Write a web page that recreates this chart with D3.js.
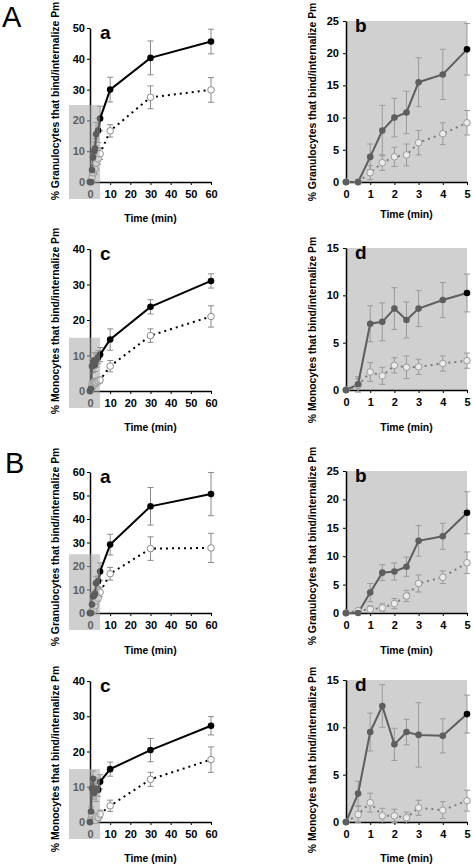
<!DOCTYPE html>
<html><head><meta charset="utf-8">
<script src="https://cdn.jsdelivr.net/npm/d3@7/dist/d3.min.js"></script>
<style>
html,body{margin:0;padding:0;background:#fff;}
svg{display:block;font-family:"Liberation Sans",Arial,sans-serif;}
</style></head>
<body>
<svg id="chart" width="473" height="868"></svg>
<script>
// ---- data ----
const timesFull = [0, 0.5, 1, 1.5, 2, 2.5, 3, 4, 5, 10, 30, 60];
const xTicksMain = [0, 10, 20, 30, 40, 50, 60];
const xTicksInset = [0, 1, 2, 3, 4, 5];

const aGranFilled = [0, 0, 3.9, 8.0, 10.0, 10.8, 15.5, 16.7, 20.6, 30.0, 40.3, 45.6];
const aGranFilledErr = [0, 0, 2, 3.9, 3, 3.3, 3.8, 3.9, 4, 4, 5.5, 4];
const aGranOpen = [0, 0, 1.45, 3.0, 3.9, 4.2, 6.1, 7.5, 9.2, 16.6, 27.5, 29.9];
const aGranOpenErr = [0, 0, 1.1, 1.2, 1.5, 1.7, 1.9, 1.7, 1.9, 2, 3.7, 4];

const aMonoFilled = [0, 0.6, 7.0, 7.2, 8.6, 7.4, 8.6, 9.5, 10.25, 14.5, 23.7, 31.0];
const aMonoFilledErr = [0, 0.8, 1.9, 2, 2.2, 1.9, 1.9, 1.85, 2, 3, 2, 2];
const aMonoOpen = [0, 0.5, 1.9, 1.5, 2.6, 2.4, 2.45, 2.8, 3.1, 7.0, 15.6, 21.0];
const aMonoOpenErr = [0, 0.7, 1, 0.9, 0.8, 1.2, 0.8, 0.8, 0.8, 1.6, 1.9, 3];

const bGranFilled = [0, 0, 3.6, 7.1, 7.3, 8.15, 12.7, 13.5, 17.65, 29.1, 45.4, 50.6];
const bGranFilledErr = [0, 0, 1.6, 1.4, 1.5, 1.7, 2.7, 2.3, 3.7, 4.4, 8, 9.2];
const bGranOpen = [0, 0.4, 0.65, 0.9, 1.65, 3.0, 5.2, 6.3, 8.85, 16.7, 27.4, 27.7];
const bGranOpenErr = [0, 0.3, 0.6, 0.7, 0.9, 1, 1.5, 1.1, 1.9, 2.7, 5, 6.2];

const bMonoFilled = [0, 3.0, 9.5, 12.25, 8.2, 9.5, 9.2, 9.1, 11.4, 15.0, 20.4, 27.3];
const bMonoFilledErr = [0, 1.3, 2, 2.25, 1.7, 1.35, 3.4, 1.8, 2, 2, 3.3, 2.6];
const bMonoOpen = [0, 0.8, 2.05, 0.65, 0.65, 0.45, 1.5, 1.25, 2.25, 4.6, 12.1, 17.7];
const bMonoOpenErr = [0, 0.85, 1, 0.8, 0.7, 0.6, 0.8, 0.9, 1.1, 1.6, 2, 3.6];

const granLabel = "% Granulocytes that bind/internalize Pm";
const monoLabel = "% Monocytes that bind/internalize Pm";
const timeLabel = "Time (min)";

// ---- layout ----
const svg = d3.select("#chart");
const panels = [
  {kind:"main", letter:"a", yMax:50, insetMax:25, x0:90, x1:211, y0:182, y1:28, ylab:granLabel, ylabY:101, tY:222, f:aGranFilled, fe:aGranFilledErr, o:aGranOpen, oe:aGranOpenErr},
  {kind:"inset", letter:"b", yMax:25, x0:346, x1:467, y0:182, y1:21, ylab:granLabel, ylabY:102, tY:218, f:aGranFilled, fe:aGranFilledErr, o:aGranOpen, oe:aGranOpenErr},
  {kind:"main", letter:"c", yMax:40, insetMax:15, x0:90, x1:211, y0:391, y1:249, ylab:monoLabel, ylabY:321, tY:431, f:aMonoFilled, fe:aMonoFilledErr, o:aMonoOpen, oe:aMonoOpenErr},
  {kind:"inset", letter:"d", yMax:15, x0:346, x1:467, y0:390, y1:248, ylab:monoLabel, ylabY:330, tY:431, f:aMonoFilled, fe:aMonoFilledErr, o:aMonoOpen, oe:aMonoOpenErr},
  {kind:"main", letter:"a", yMax:60, insetMax:25, x0:90, x1:211, y0:613, y1:472, ylab:granLabel, ylabY:547, tY:654, f:bGranFilled, fe:bGranFilledErr, o:bGranOpen, oe:bGranOpenErr},
  {kind:"inset", letter:"b", yMax:25, x0:346, x1:467, y0:613, y1:471, ylab:granLabel, ylabY:546, tY:654, f:bGranFilled, fe:bGranFilledErr, o:bGranOpen, oe:bGranOpenErr},
  {kind:"main", letter:"c", yMax:40, insetMax:15, x0:90, x1:211, y0:822, y1:681, ylab:monoLabel, ylabY:759, tY:862, f:bMonoFilled, fe:bMonoFilledErr, o:bMonoOpen, oe:bMonoOpenErr},
  {kind:"inset", letter:"d", yMax:15, x0:346, x1:467, y0:822, y1:680, ylab:monoLabel, ylabY:760, tY:862, f:bMonoFilled, fe:bMonoFilledErr, o:bMonoOpen, oe:bMonoOpenErr}
];

function drawPanel(p) {
  const g = svg.append("g");
  const inset = p.kind === "inset";
  const xMax = inset ? 5 : 60;
  const x = d3.scaleLinear().domain([0, xMax]).range([p.x0, p.x1]);
  const y = d3.scaleLinear().domain([0, p.yMax]).range([p.y0, p.y1]);
  const step = inset ? 5 : 10;
  const yTicks = d3.range(0, p.yMax + 0.001, step);

  const n = inset ? 9 : timesFull.length;
  const pts = (vals, errs) => timesFull.slice(0, n).map((t, i) => ({t, v: vals[i], e: errs[i], i}));
  const fPts = pts(p.f, p.fe), oPts = pts(p.o, p.oe);

  if (inset) {
    g.append("rect").attr("x", x(0)).attr("y", y(p.yMax))
      .attr("width", x(5) - x(0)).attr("height", y(0) - y(p.yMax))
      .attr("fill", "#d0d0d0");
  }

  // axes
  const xAxis = d3.axisBottom(x).tickValues(inset ? xTicksInset : xTicksMain)
    .tickSizeInner(3).tickSizeOuter(0).tickPadding(5).tickFormat(d3.format("d"));
  const yAxis = d3.axisLeft(y).tickValues(yTicks)
    .tickSizeInner(3).tickSizeOuter(0).tickPadding(inset ? 4 : 2).tickFormat(d3.format("d"));
  const gx = g.append("g").attr("transform", `translate(0,${p.y0})`).call(xAxis);
  const gy = g.append("g").attr("transform", `translate(${p.x0},0)`).call(yAxis);
  [gx, gy].forEach(a => {
    a.select(".domain").attr("stroke", "#000").attr("stroke-width", 1.5);
    a.selectAll(".tick line").attr("stroke", "#000");
    a.selectAll(".tick text").attr("fill", "#000").style("font-size", "11px")
      .style("font-weight", "bold").style("font-family", '"Liberation Sans", Arial, sans-serif');
  });

  const colF = inset ? "#5e5e5e" : "#000";
  const colErr = inset ? "#9a9a9a" : "#8a8a8a";
  const colOStroke = inset ? "#9a9a9a" : "#8a8a8a";
  const colOFill = inset ? "#ebebeb" : "#fff";
  const colDot = inset ? "#7a7a7a" : "#000";

  const line = d3.line().x(d => x(d.t)).y(d => y(d.v));

  // error bars
  const drawErr = (data) => {
    const eg = g.append("g").attr("stroke", colErr).attr("stroke-width", 1).attr("fill", "none");
    data.filter(d => d.e > 0).forEach(d => {
      const cx = x(d.t);
      eg.append("line").attr("x1", cx).attr("x2", cx).attr("y1", y(d.v - d.e)).attr("y2", y(d.v + d.e));
      eg.append("line").attr("x1", cx - 3).attr("x2", cx + 3).attr("y1", y(d.v + d.e)).attr("y2", y(d.v + d.e));
      eg.append("line").attr("x1", cx - 3).attr("x2", cx + 3).attr("y1", y(d.v - d.e)).attr("y2", y(d.v - d.e));
    });
  };
  drawErr(oPts);
  drawErr(fPts);

  // dotted open series
  g.append("path").datum(oPts).attr("d", line).attr("fill", "none")
    .attr("stroke", colDot).attr("stroke-width", 2).attr("stroke-dasharray", "2,4");
  // solid filled series
  g.append("path").datum(fPts).attr("d", line).attr("fill", "none")
    .attr("stroke", colF).attr("stroke-width", 2);

  g.append("g").selectAll("circle").data(oPts).join("circle")
    .attr("cx", d => x(d.t)).attr("cy", d => y(d.v)).attr("r", 3.3)
    .attr("fill", colOFill).attr("stroke", colOStroke).attr("stroke-width", 1);
  g.append("g").selectAll("circle").data(fPts).join("circle")
    .attr("cx", d => x(d.t)).attr("cy", d => y(d.v)).attr("r", 3.3)
    .attr("fill", d => (inset && d.t === 5) ? "#000" : colF);

  // overlay on the main panel, marking the region shown in the inset
  if (!inset) {
    g.append("rect").attr("x", 69).attr("y", y(p.insetMax))
      .attr("width", x(5) - 69).attr("height", y(0) + 17 - y(p.insetMax))
      .attr("fill", "#a8a8a8").attr("fill-opacity", 0.55);
  }

  // panel letter
  g.append("text").attr("x", inset ? p.x0 + 9 : p.x0 + 10).attr("y", p.y1 + 11)
    .style("font-size", "19px").style("font-weight", "bold").text(p.letter);

  // axis titles
  const lx = inset ? 312 : 55;
  g.append("text").attr("transform", `translate(${lx},${p.ylabY}) rotate(-90)`)
    .attr("text-anchor", "middle").attr("dy", "0.36em")
    .style("font-size", "10.4px").style("font-weight", "bold").text(p.ylab);
  g.append("text").attr("x", (p.x0 + p.x1) / 2).attr("y", p.tY)
    .attr("text-anchor", "middle")
    .style("font-size", "10.4px").style("font-weight", "bold").text(timeLabel);
}

panels.forEach(drawPanel);

svg.append("text").attr("x", 2).attr("y", 27).style("font-size", "29px").text("A");
svg.append("text").attr("x", 5).attr("y", 473).style("font-size", "29px").text("B");
</script>
</body></html>
